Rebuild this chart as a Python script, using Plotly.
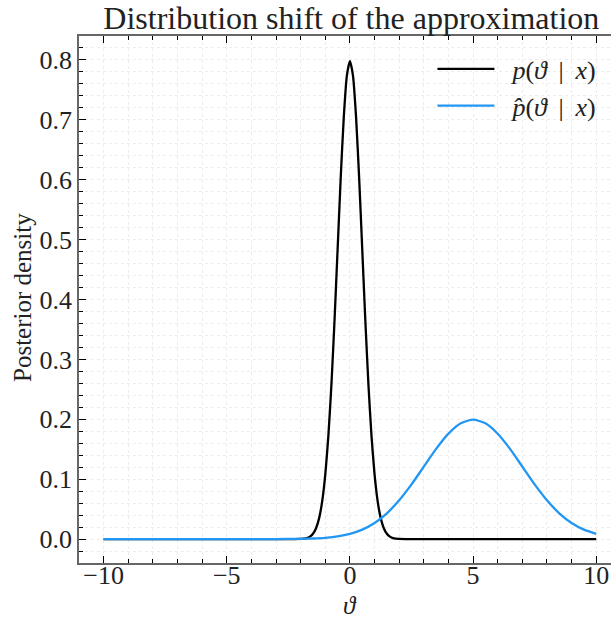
import plotly.graph_objects as go

# Data
theta_p = [-10, -2.5, -2.0, -1.75, -1.625, -1.5, -1.375, -1.25, -1.125, -1.0, -0.875, -0.75, -0.625,
           -0.5, -0.375, -0.25, -0.125, 0.0, 0.125, 0.25, 0.375, 0.5, 0.625, 0.75, 0.875, 1.0,
           1.125, 1.25, 1.375, 1.5, 1.625, 1.75, 2.0, 2.5, 10]
dens_p = [0.0, 0.0, 0.0003, 0.0017, 0.0041, 0.0089, 0.0182, 0.035, 0.0635, 0.108, 0.1726, 0.259, 0.3653,
          0.484, 0.6023, 0.704, 0.7734, 0.798, 0.7734, 0.704, 0.6023, 0.484, 0.3653, 0.259, 0.1726, 0.108,
          0.0635, 0.035, 0.0182, 0.0089, 0.0041, 0.0017, 0.0003, 0.0, 0.0]

theta_q = [-10, -4, -3, -2, -1.5, -1, -0.5, 0, 0.5, 1, 1.5, 2, 2.5, 3, 3.5, 4, 4.5, 5,
           5.5, 6, 6.5, 7, 7.5, 8, 8.5, 9, 9.5, 10]
dens_q = [0.0, 0.0, 0.0001, 0.0004, 0.0010, 0.0022, 0.0045, 0.0088, 0.0159, 0.027, 0.0431, 0.0648,
          0.0913, 0.121, 0.1506, 0.176, 0.1933, 0.1995, 0.1933, 0.176, 0.1506, 0.121, 0.0913,
          0.0648, 0.0431, 0.027, 0.0159, 0.0088]

x_ticks = [-10, -5, 0, 5, 10]
y_ticks = [0.0, 0.1, 0.2, 0.3, 0.4, 0.5, 0.6, 0.7, 0.8]

FONT = "Liberation Serif"
AXC = "#666666"
GRID = "#ececec"
TXT = "#222222"
BAR = " \u2009|\u2009 "
LEAD = "\u2002"

fig = go.Figure()
fig.add_trace(go.Scatter(x=theta_p, y=dens_p, mode="lines",
                         line=dict(color="black", width=2.3, shape="spline", smoothing=0.6),
                         name=f"{LEAD}<i>p</i>(<i>ϑ</i>{BAR}<i>x</i>)"))
fig.add_trace(go.Scatter(x=theta_q, y=dens_q, mode="lines",
                         line=dict(color="#2196f3", width=2.3, shape="spline", smoothing=0.6),
                         name=f"{LEAD}<i>p̂</i>(<i>ϑ</i>{BAR}<i>x</i>)"))

axis_common = dict(
    showline=True, linecolor=AXC, linewidth=1.5,
    ticks="inside", ticklen=7, tickwidth=1, tickcolor="black",
    showgrid=True, gridcolor=GRID, griddash="dot", gridwidth=1,
    zeroline=False,
    tickfont=dict(family=FONT, size=26, color=TXT),
)

fig.update_xaxes(
    **axis_common,
    range=[-11, 10.6], tickvals=x_ticks, mirror="ticks", ticklabelstandoff=-12,
    minor=dict(dtick=1, tick0=0, ticks="inside", ticklen=4, tickcolor="black",
               showgrid=True, gridcolor=GRID, griddash="dot", gridwidth=1),
)
fig.update_yaxes(
    **axis_common,
    range=[-0.0399, 0.8399], tickvals=y_ticks, tickformat=".1f", ticklabelstandoff=0,
    minor=dict(dtick=0.02, tick0=0, ticks="inside", ticklen=4, tickcolor="black",
               showgrid=True, gridcolor=GRID, griddash="dot", gridwidth=1),
)

fig.add_annotation(text="<i>ϑ</i>", xref="paper", yref="paper", x=11 / 21.6, y=-57 / 527,
                   xanchor="center", yanchor="bottom", showarrow=False, height=24, borderpad=0,
                   valign="bottom", font=dict(family=FONT, size=25, color=TXT))
fig.add_annotation(text="Posterior density", xref="paper", yref="paper", x=-57 / 532, y=(563 - 298) / 527,
                   xanchor="center", yanchor="middle", showarrow=False, textangle=-90,
                   font=dict(family=FONT, size=25, color=TXT))

fig.update_layout(
    width=611, height=619,
    margin=dict(l=79, r=0, t=36, b=56),
    paper_bgcolor="white", plot_bgcolor="white",
    title=dict(text="Distribution shift of the approximation", font=dict(family=FONT, size=32, color=TXT),
               x=0.5119, xref="paper", xanchor="center", y=1 - 18 / 619, yref="container", yanchor="middle"),
    legend=dict(x=0.982, y=0.982, xanchor="right", yanchor="top", bgcolor="rgba(255,255,255,0)",
                font=dict(family=FONT, size=26, color=TXT), itemwidth=57, tracegroupgap=0),
    showlegend=True,
)

fig.write_html("out.html")
